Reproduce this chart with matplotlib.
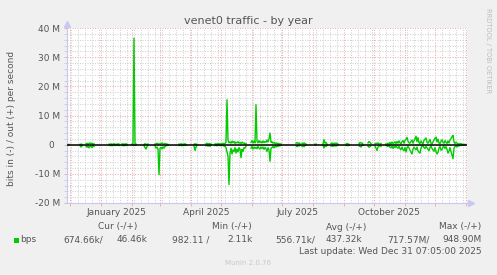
import numpy as np
import pandas as pd
import matplotlib
matplotlib.use('Agg')
import matplotlib.pyplot as plt
import matplotlib.dates as mdates
from matplotlib.ticker import MultipleLocator, FixedLocator, NullFormatter
from matplotlib.patches import Rectangle

plt.rcParams['font.family'] = ['DejaVu Sans']

# daily samples in Mbit/s, "in" is drawn below zero; gaps = no data
seg_starts = ['2024-11-29', '2024-12-11', '2024-12-17', '2025-01-09', '2025-01-22',
              '2025-02-01', '2025-02-13', '2025-02-24', '2025-03-20', '2025-04-04',
              '2025-04-16', '2025-04-25', '2025-05-06', '2025-05-31', '2025-07-15',
              '2025-07-21', '2025-08-03', '2025-08-11', '2025-08-19', '2025-09-03',
              '2025-09-16', '2025-09-25', '2025-10-02', '2025-10-13']
seg_out = [
    [0.1, 0.1],
    [0.1, 0.2, 0.1],
    [0.3, 0.5, 0.2, 0.4, 0.6, 0.3, 0.5, 0.2, 0.3],
    [0.2, 0.1, 0.3, 0.1, 0.2, 0.3, 0.1, 0.2, 0.1, 0.3, 0.2],
    [0.2, 0.3, 0.1, 0.2, 0.3, 0.1],
    [0.2, 0.3, 36.5, 0.4, 0.2],
    [0.1, 0.3, 0.2, 0.1, 0.2],
    [0.2, 0.3, 0.5, 0.2, 0.3, 0.2, 0.4, 0.6, 0.3, 0.2, 0.4, 0.3, 0.2, 0.1],
    [0.2, 0.1, 0.3, 0.2, 0.1, 0.2, 0.3, 0.1],
    [0.1, 0.3, 0.2, 0.1],
    [0.3, 0.5, 0.2, 0.4, 0.3, 0.2],
    [0.2, 0.3, 0.1, 0.4, 0.2, 0.3, 0.3, 0.2, 0.5, 0.3, 0.4],
    [0.8, 15.4, 1.5, 0.6, 1.0, 0.5, 1.2, 0.7, 1.1, 0.4, 0.9, 0.6, 1.0, 0.5, 0.8, 0.4,
     0.9, 0.5, 0.6, 0.3, 0.4],
    [0.8, 1.4, 0.6, 1.2, 0.6, 13.7, 1.2, 0.6, 1.4, 0.7, 1.1, 0.6, 1.3, 0.7, 1.1, 0.8,
     1.6, 0.9, 2.0, 4.0, 0.8, 1.0, 0.5, 0.8, 0.4, 0.6, 0.3, 0.5, 0.2, 0.3, 0.2],
    [0.5, 0.7, 0.4, 0.6, 0.3],
    [0.5, 0.3, 0.6, 0.4, 0.2],
    [0.2, 0.2],
    [0.3, 1.7, 0.5, 0.8, 0.2],
    [0.4, 0.6, 0.2, 0.5, 0.3, 0.6, 0.4, 0.2],
    [0.2, 0.4, 0.3, 0.1],
    [0.3, 0.8, 0.5, 0.6, 0.2],
    [0.6, 1.1, 0.8, 0.4],
    [0.3, 0.5, 0.4, 0.6, 0.3, 0.2, 0.4],
    [0.3, 0.2, 0.5, 0.2, 0.8, 0.3, 0.9, 0.4, 0.6, 1.0,
     0.4, 1.1, 0.5, 1.3, 0.6, 0.3, 1.1, 1.4, 0.5, 1.5,
     1.8, 2.5, 1.2, 0.6, 0.5, 1.2, 1.6, 0.5, 1.4, 2.0,
     2.9, 1.0, 2.4, 0.6, 0.4, 1.3, 0.6, 0.3, 1.5, 1.9,
     2.3, 0.8, 0.5, 1.1, 1.8, 0.5, 0.3, 0.9, 1.6, 2.2,
     2.6, 0.9, 1.9, 0.5, 0.4, 1.2, 1.7, 0.8, 0.5, 1.4,
     0.8, 0.4, 1.3, 0.6, 1.6, 2.1, 2.7, 3.2, 0.9, 0.4,
     0.9, 0.5, 0.3, 0.2, 0.4, 0.3, 0.2, 0.1, 0.1, 0.1],
]
seg_in = [
    [0.3, 0.2],
    [0.3, 0.8, 0.4],
    [0.5, 0.9, 0.4, 1.1, 0.7, 0.5, 1.0, 0.3, 0.6],
    [0.2, 0.3, 0.1, 0.4, 0.2, 0.1, 0.3, 0.2, 0.1, 0.2, 0.3],
    [0.3, 0.2, 0.4, 0.1, 0.2, 0.3],
    [0.1, 0.2, 0.3, 0.2, 0.1],
    [0.4, 1.0, 1.5, 0.6, 0.3],
    [0.4, 1.2, 0.8, 1.5, 10.3, 1.2, 0.9, 1.5, 0.7, 1.2, 0.6, 0.4, 0.3, 0.2],
    [0.3, 0.2, 0.1, 0.4, 0.2, 0.3, 0.1, 0.2],
    [0.5, 2.0, 0.8, 0.3],
    [0.4, 0.2, 0.5, 0.3, 0.6, 0.2],
    [0.3, 0.2, 0.4, 0.1, 0.3, 0.2, 0.4, 0.3, 0.2, 0.5, 0.6],
    [1.0, 2.5, 4.0, 13.7, 2.9, 1.2, 3.2, 1.8, 2.4, 1.0, 2.9, 1.5, 2.5, 1.0, 1.5, 4.5,
     1.6, 2.3, 1.0, 1.2, 0.5],
    [1.2, 0.6, 1.5, 0.8, 1.3, 0.9, 1.4, 0.6, 1.2, 1.5, 0.8, 1.3, 0.8, 1.6, 0.9, 1.4,
     2.3, 1.0, 1.8, 5.7, 1.2, 1.0, 0.6, 1.1, 0.5, 0.8, 0.4, 0.6, 0.3, 0.4, 0.2],
    [0.4, 0.7, 0.3, 0.5, 0.2],
    [0.6, 0.4, 0.7, 0.3, 0.2],
    [0.2, 0.1],
    [0.2, 1.1, 0.4, 0.6, 0.3],
    [0.5, 0.3, 0.6, 0.2, 0.4, 0.5, 0.3, 0.2],
    [0.3, 0.2, 0.4, 0.2],
    [0.4, 0.6, 0.8, 0.3, 0.2],
    [0.5, 0.9, 0.7, 0.3],
    [0.5, 1.2, 2.0, 0.8, 0.5, 0.3, 0.6],
    [0.2, 0.5, 0.6, 0.3, 0.9, 1.1, 0.5, 1.3, 0.6, 1.0,
     0.5, 0.9, 1.2, 0.6, 1.4, 1.7, 0.8, 1.7, 2.1, 1.0,
     2.5, 1.1, 0.6, 1.1, 1.9, 2.6, 3.2, 1.5, 0.8, 1.4,
     1.8, 0.8, 2.1, 2.6, 2.9, 1.2, 0.5, 0.4, 1.0, 1.3,
     0.6, 1.1, 1.6, 2.1, 0.9, 0.5, 1.3, 1.8, 2.3, 1.0,
     2.3, 3.2, 2.6, 1.1, 0.6, 1.9, 1.7, 0.8, 0.6, 1.3,
     0.7, 1.6, 2.9, 2.2, 1.0, 2.4, 3.6, 4.8, 1.2, 0.6,
     0.4, 0.8, 0.3, 0.5, 0.2, 0.3, 0.2, 0.2, 0.1, 0.1],
]

month_labels = ['January 2025', 'April 2025', 'July 2025', 'October 2025']
month_label_dates = ['2025-01-16', '2025-04-16', '2025-07-16', '2025-10-16']
y_ticks = [-20, -10, 0, 10, 20, 30, 40]
y_tick_labels = ['-20 M', '-10 M', '0  ', '10 M', '20 M', '30 M', '40 M']

legend_heads = ['Cur (-/+)', 'Min (-/+)', 'Avg (-/+)', 'Max (-/+)']
legend_in = ['674.66k/', '982.11 /', '556.71k/', '717.57M/']
legend_out = ['46.46k', '2.11k', '437.32k', '948.90M']

# ---- build daily series
days = pd.date_range('2024-11-28', '2026-01-01', freq='D')
out_s = pd.Series(np.nan, index=days)
in_s = pd.Series(np.nan, index=days)
for start, o, i in zip(seg_starts, seg_out, seg_in):
    idx = pd.date_range(start, periods=len(o), freq='D')
    out_s[idx] = o
    in_s[idx] = i

W, H = 497, 275
bg = '#F0F0F0'
txt = '#555555'
green = '#00CC00'
fig = plt.figure(figsize=(W / 100, H / 100), dpi=100, facecolor=bg)
ax = fig.add_axes([67 / W, 1 - 203 / H, 400 / W, 175 / H], facecolor='white')

ax.plot(out_s.index, out_s.values, color=green, lw=1.0, zorder=2)
ax.plot(in_s.index, -in_s.values, color=green, lw=1.0, zorder=2)
ax.axhline(0, color='black', lw=1.1, zorder=3)

ax.set_xlim(pd.Timestamp('2024-11-28'), pd.Timestamp('2026-01-02'))
ax.set_ylim(-20, 40)

ax.xaxis.set_major_locator(mdates.MonthLocator())
ax.xaxis.set_minor_locator(mdates.WeekdayLocator(byweekday=mdates.MO))
ax.xaxis.set_major_formatter(NullFormatter())
ax.yaxis.set_major_locator(FixedLocator(y_ticks))
ax.set_yticklabels(y_tick_labels)
ax.yaxis.set_minor_locator(MultipleLocator(2))

red_grid = '#EDB0B0'
grey_grid = '#D2D2D2'
dots = (0, (1, 1.4))
ax.grid(which='major', color=red_grid, linestyle=dots, lw=0.75, zorder=1)
ax.grid(which='minor', color=grey_grid, linestyle=dots, lw=0.75, zorder=0)
ax.set_axisbelow(True)

ax.tick_params(axis='both', which='major', length=2, width=0.7, color=red_grid,
               labelsize=6.5, labelcolor=txt, pad=3)
ax.tick_params(axis='y', which='minor', length=2, width=0.7, color=grey_grid)
ax.tick_params(axis='x', which='minor', length=0)

for s in ['top', 'right']:
    ax.spines[s].set_visible(False)
for s in ['left', 'bottom']:
    ax.spines[s].set_color('#C8C8F4')
    ax.spines[s].set_linewidth(0.8)
ax.plot([0], [1.025], marker='^', ms=4, color='#C8C8F4', transform=ax.transAxes, clip_on=False)
ax.plot([1.01], [0], marker='>', ms=4, color='#C8C8F4', transform=ax.transAxes, clip_on=False)

xt = ax.get_xaxis_transform()
for lab, d in zip(month_labels, month_label_dates):
    ax.text(pd.Timestamp(d), -0.057, lab, transform=xt, ha='center', va='center',
            fontsize=6.5, color=txt)


def ftext(x, y, s, **kw):
    kw.setdefault('fontsize', 6.5)
    kw.setdefault('color', txt)
    kw.setdefault('va', 'center')
    fig.text(x / W, 1 - y / H, s, **kw)


ftext(248, 21, 'venet0 traffic - by year', fontsize=8, ha='center')
ftext(12, 118, 'bits in (-) / out (+) per second', rotation=90, ha='center')
ftext(488, 51, 'RRDTOOL / TOBI OETIKER', rotation=270, ha='center', fontsize=4.8,
      color='#BDBDBD')

head_x = [98, 212, 326, 439]
in_x = [63, 172, 275, 387]
out_x = [117, 227, 326, 442]
for hx, ix, ox, hd, vi, vo in zip(head_x, in_x, out_x, legend_heads, legend_in, legend_out):
    ftext(hx, 227, hd, ha='left')
    ftext(ix, 240, vi, ha='left')
    ftext(ox, 240, vo, ha='left')

fig.patches.append(Rectangle((14 / W, 1 - 243 / H), 5 / W, 5 / H, transform=fig.transFigure,
                             facecolor=green, edgecolor='none'))
ftext(20, 240, 'bps', ha='left')
ftext(482, 252, 'Last update: Wed Dec 31 07:05:00 2025', ha='right')
ftext(248, 263, 'Munin 2.0.76', ha='center', fontsize=5, color='#C8C8C8')

fig.savefig('out.png', dpi=100, facecolor=bg)
